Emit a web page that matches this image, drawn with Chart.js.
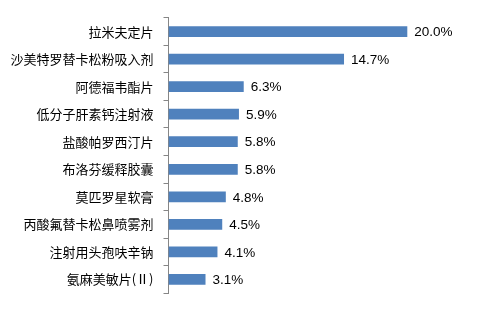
<!DOCTYPE html>
<html>
<head>
<meta charset="utf-8">
<script src="https://cdn.jsdelivr.net/npm/chart.js@4"></script>
<style>
  html, body { margin: 0; padding: 0; background: #fff; }
  #wrap { width: 481px; height: 311px; }
</style>
</head>
<body>
<div id="wrap"><canvas id="chart"></canvas></div>
<script>
const drugs = ["拉米夫定片", "沙美特罗替卡松粉吸入剂", "阿德福韦酯片", "低分子肝素钙注射液", "盐酸帕罗西汀片",
  "布洛芬缓释胶囊", "莫匹罗星软膏", "丙酸氟替卡松鼻喷雾剂", "注射用头孢呋辛钠", "氨麻美敏片(Ⅱ)"];
const shares = [20.0, 14.7, 6.3, 5.9, 5.8, 5.8, 4.8, 4.5, 4.1, 3.1];

// value labels at the end of each bar
const valueLabels = {
  id: "valueLabels",
  afterDatasetsDraw(chart) {
    const ctx = chart.ctx;
    const meta = chart.getDatasetMeta(0);
    ctx.save();
    ctx.font = "13.5px 'Liberation Sans', Arial, sans-serif";
    ctx.fillStyle = "#000";
    ctx.textAlign = "left";
    ctx.textBaseline = "middle";
    meta.data.forEach((bar, i) => {
      ctx.fillText(shares[i].toFixed(1) + "%", bar.x + 7, bar.y + 1);
    });
    ctx.restore();
  }
};

new Chart(document.getElementById("chart").getContext("2d"), {
  type: "bar",
  data: {
    labels: drugs,
    datasets: [{
      data: shares,
      backgroundColor: "#4F81BD",
      categoryPercentage: 1,
      barPercentage: 0.39
    }]
  },
  options: {
    indexAxis: "y",
    responsive: true,
    maintainAspectRatio: false,
    animation: false,
    layout: { padding: { left: 0, right: 14, top: 14, bottom: 14 } },
    plugins: { legend: { display: false }, tooltip: { enabled: false } },
    scales: {
      x: { display: false, min: 0, max: 25 },
      y: {
        afterFit(scale) { scale.width = 168.5; },
        border: { display: true, color: "#868686", width: 1 },
        grid: { display: true, drawOnChartArea: false, color: "#868686", tickLength: 5, offset: true },
        ticks: {
          color: "#000",
          padding: 10,
          font: { family: "'Noto Sans CJK SC', sans-serif", size: 13 }
        }
      }
    }
  },
  plugins: [valueLabels]
});
</script>
</body>
</html>
